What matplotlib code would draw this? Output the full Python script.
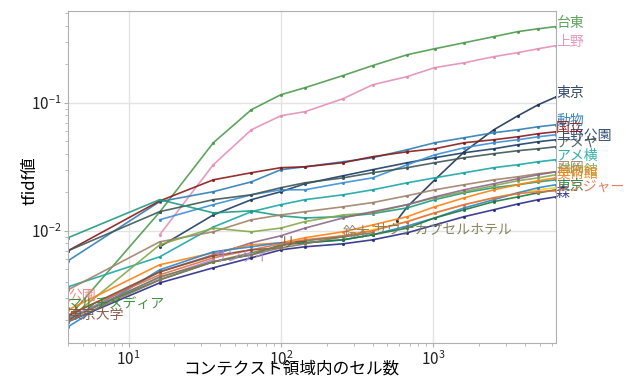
import numpy as np
import matplotlib
matplotlib.use("Agg")
import matplotlib.pyplot as plt

plt.rcParams['font.family'] = ['Noto Sans CJK JP', 'DejaVu Sans']
plt.rcParams['mathtext.fontset'] = 'dejavusans'

nan = np.nan
# context region sizes (cells)
context_sizes = [4, 16, 36, 64, 100, 144, 196, 256, 400, 576, 676, 1024, 1600, 2500, 3600, 4900, 6400]

taito = [0.00209, 0.014, 0.0487, 0.0882, 0.1155, 0.131, nan, 0.163, 0.195, nan, 0.237, 0.264, 0.294, 0.328, 0.359, 0.378, 0.393]
ueno = [nan, 0.00931, 0.0328, 0.0615, 0.0791, 0.0851, nan, 0.1075, 0.138, nan, 0.160, 0.188, 0.205, 0.229, 0.246, 0.264, 0.279]
tokyo = [nan, nan, nan, nan, nan, nan, nan, nan, nan, 0.0120, 0.0154, 0.0250, 0.0414, 0.0615, 0.0791, 0.0965, 0.111]
ueno_park = [nan, 0.0075, 0.0133, 0.0175, 0.0202, 0.0233, nan, 0.0269, 0.0300, nan, 0.0340, 0.0372, 0.0407, 0.0437, 0.0470, 0.0496, 0.0514]
dobutsu = [0.00583, 0.0169, 0.0202, 0.0241, 0.0300, 0.0316, nan, 0.0346, 0.0372, nan, 0.0430, 0.0487, 0.0533, 0.0583, 0.0615, 0.0649, 0.0673]
kokuritsu = [0.00698, 0.0171, 0.0250, 0.0284, 0.0311, 0.0316, nan, 0.0340, 0.0379, nan, 0.0414, 0.0437, 0.0487, 0.0514, 0.0542, 0.0573, 0.0593]
blue_mid = [nan, 0.0122, 0.0160, 0.0191, 0.0209, 0.0209, nan, 0.0237, 0.0259, nan, 0.0328, 0.0392, 0.0445, 0.0487, 0.0514, 0.0542, 0.0562]
ameya = [0.00698, 0.0141, 0.0175, 0.0191, 0.0217, 0.0237, nan, 0.0259, 0.0284, nan, 0.0311, 0.0340, 0.0372, 0.0400, 0.0422, 0.0437, 0.0453]
ameyoko = [0.00365, 0.00626, 0.0107, 0.0141, 0.0160, 0.0175, nan, 0.0191, 0.0209, nan, 0.0237, 0.0259, 0.0284, 0.0311, 0.0328, 0.0346, 0.0359]
teal_green = [0.00882, 0.0175, 0.0138, 0.0143, 0.0131, 0.0126, nan, 0.0129, 0.0136, nan, 0.0151, 0.0175, 0.0198, 0.0217, 0.0229, 0.0241, 0.0250]
shinobu = [0.00346, 0.0082, 0.00982, 0.0122, 0.0133, 0.0141, nan, 0.0154, 0.0166, nan, 0.0188, 0.0209, 0.0229, 0.0250, 0.0264, 0.0279, 0.0289]
hakubutsu = [0.00202, 0.00777, 0.0105, 0.00982, 0.0105, 0.0118, nan, 0.0133, 0.0138, nan, 0.0160, 0.0181, 0.0202, 0.0225, 0.0246, 0.0259, 0.0274]
mauve = [0.00202, 0.00478, 0.00649, 0.00806, 0.00914, 0.0105, nan, 0.0126, 0.0141, nan, 0.0160, 0.0184, 0.0209, 0.0233, 0.0255, 0.0274, 0.0289]
bijutsu = [0.00241, 0.00543, 0.00673, 0.00777, 0.00806, 0.00882, nan, 0.00982, 0.0111, nan, 0.0129, 0.0154, 0.0181, 0.0209, 0.0229, 0.0246, 0.0259]
yellow = [nan, nan, nan, nan, nan, nan, 0.00866, 0.00914, 0.0102, nan, 0.0118, 0.0138, 0.0160, 0.0181, 0.0198, 0.0209, 0.0217]
blue_low = [0.00178, 0.00496, 0.00685, 0.0075, 0.00806, 0.00806, nan, 0.0085, 0.00931, nan, 0.0109, 0.0126, 0.0151, 0.0175, 0.0198, 0.0217, 0.0229]
kyo = [0.00209, 0.00414, 0.00573, 0.00649, 0.00777, 0.00806, nan, 0.0085, 0.00931, nan, 0.0105, 0.0126, 0.0146, 0.0169, 0.0184, 0.0198, 0.0209]
mori = [0.00195, 0.00392, 0.00514, 0.00615, 0.0071, 0.0075, nan, 0.00791, 0.0085, nan, 0.00965, 0.0111, 0.0129, 0.0146, 0.0162, 0.0175, 0.0184]
ranger = [0.00221, 0.00453, 0.00615, 0.0071, 0.00791, 0.0085, nan, 0.00914, 0.0100, nan, 0.0118, 0.0138, 0.0160, 0.0181, 0.0195, 0.0202, 0.0205]
sankei = [0.00209, 0.0043, 0.00594, nan, nan, nan, nan, nan, nan, nan, nan, nan, nan, nan, nan, nan, nan]
lee = [0.00217, 0.00478, 0.00638, 0.0071, 0.00736, nan, nan, nan, nan, nan, nan, nan, nan, nan, nan, nan, nan]
suzuki = [0.00195, 0.00414, 0.00573, 0.00649, 0.00736, 0.00791, nan, 0.00898, nan, nan, nan, nan, nan, nan, nan, nan, nan]
sauna = [0.00202, 0.00437, 0.00573, 0.00673, 0.00763, 0.00835, nan, 0.00898, 0.00965, nan, nan, nan, nan, nan, nan, nan, nan]
koen = [0.00289] + [nan] * 16
multimedia = [0.0025] + [nan] * 16
todai = [0.00205] + [nan] * 16

series = [
    (taito, '台東', '#4e9a4e'),
    (ueno, '上野', '#e58fb8'),
    (tokyo, '東京', '#1c3557'),
    (ueno_park, '上野公園', '#1f3d66'),
    (dobutsu, '動物', '#2f7fb5'),
    (kokuritsu, '国立', '#8b1a1a'),
    (blue_mid, None, '#3a8fd6'),
    (ameya, 'アメヤ', '#3f5656'),
    (ameyoko, 'アメ横', '#1aa6a6'),
    (teal_green, None, '#1e9a80'),
    (shinobu, '忍岡', '#a0826a'),
    (hakubutsu, '博物館', '#86a84a'),
    (mauve, None, '#8a6a88'),
    (bijutsu, '美術館', '#ff8010'),
    (yellow, None, '#ffd21a'),
    (blue_low, None, '#2a86d0'),
    (kyo, '東京', '#1e7a3a'),
    (mori, '森', '#2c2c88'),
    (ranger, 'レンジャー', '#e0704a'),
    (sankei, 'サンケイ', '#a58ad8'),
    (lee, 'リー', '#8a5030'),
    (suzuki, '鈴木', '#8a7a62'),
    (sauna, 'サウナカプセルホテル', '#7a7a50'),
    (koen, '公園', '#f08080'),
    (multimedia, 'マルチメディア', '#2e8b2e'),
    (todai, '東京大学', '#7f4f3f'),
]

fig = plt.figure(figsize=(6.26, 3.78), dpi=100)
ax = fig.add_axes([0.1086, 0.0926, 0.7796, 0.8783])
x_all = np.array(context_sizes, dtype=float)
for vals, label, color in series:
    v = np.array(vals, dtype=float)
    m = ~np.isnan(v)
    ax.plot(x_all[m], v[m], color=color, lw=1.2, alpha=0.9, marker='.', ms=2.5)
    if label:
        ax.text(x_all[m][-1], v[m][-1], label, color=color, fontsize=10, alpha=0.9,
                ha='left', va='baseline', clip_on=False)

ax.set_xscale('log')
ax.set_yscale('log')
ax.set_xlim(4, 6400)
ax.set_ylim(0.00133, 0.52)
ax.grid(True, which='major', color='#e3e3e3', lw=1)
ax.set_axisbelow(True)
for s in ax.spines.values():
    s.set_color('#b0b0b0')
ax.tick_params(which='both', colors='#b0b0b0', labelcolor='#222222', labelsize=11, pad=2)
ax.tick_params(which='major', length=3)
ax.tick_params(which='minor', length=2)
ax.set_xlabel('コンテクスト領域内のセル数', fontsize=12)
ax.set_ylabel('tfidf値', fontsize=12)
ax.xaxis.set_label_coords(0.457, -0.052)
ax.yaxis.set_label_coords(-0.06, 0.49)
fig.savefig('out.png', dpi=100)
